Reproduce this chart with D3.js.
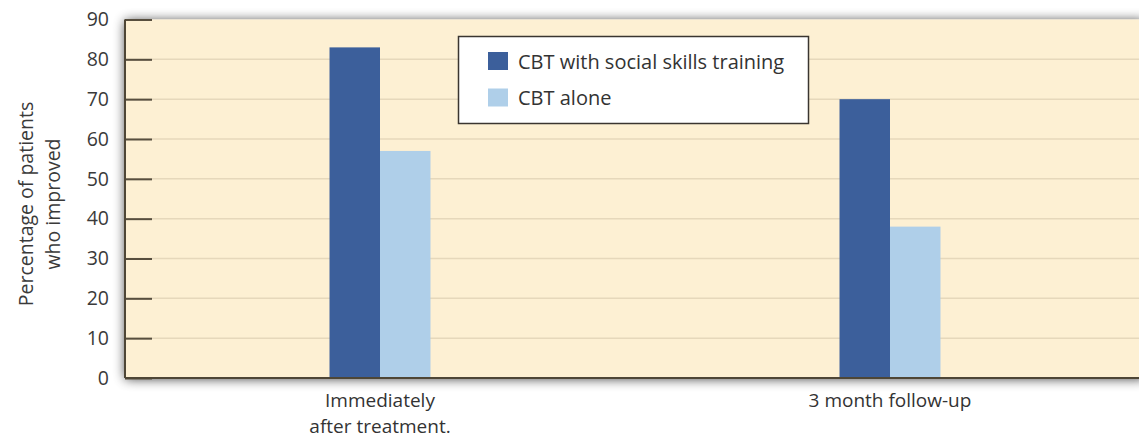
<!DOCTYPE html>
<html>
<head>
<meta charset="utf-8">
<script src="https://cdn.jsdelivr.net/npm/d3@7"></script>
<style>
  html, body { margin: 0; padding: 0; background: #ffffff; }
  svg { display: block; font-family: "Open Sans", "Noto Sans", sans-serif; }
</style>
</head>
<body>
<svg id="chart" width="1139" height="440"></svg>
<script>
const categories = [["Immediately", "after treatment."], ["3 month follow-up"]];
const categoryKeys = ["Immediately after treatment.", "3 month follow-up"];
const seriesNames = ["CBT with social skills training", "CBT alone"];
const cbtWithSkills = [83, 70];
const cbtAlone = [57, 38];
const yTicks = [0, 10, 20, 30, 40, 50, 60, 70, 80, 90];
const yTitle = ["Percentage of patients", "who improved"];

const colors = ["#3c5f9b", "#afcfe9"];
const seriesValues = [cbtWithSkills, cbtAlone];

(function () {
const svg = d3.select("#chart");
const mLeft = 125, mRight = 1145, mTop = 19.5, mBottom = 378;

const defs = svg.append("defs");
const f = defs.append("filter").attr("id", "shadow")
  .attr("x", "-5%").attr("y", "-20%").attr("width", "110%").attr("height", "140%");
f.append("feGaussianBlur").attr("in", "SourceAlpha").attr("stdDeviation", 6).attr("result", "b");
f.append("feOffset").attr("in", "b").attr("dx", 0).attr("dy", 1).attr("result", "o");
f.append("feComponentTransfer").attr("in", "o").attr("result", "s")
  .append("feFuncA").attr("type", "linear").attr("slope", 0.75);
const m = f.append("feMerge");
m.append("feMergeNode").attr("in", "s");
m.append("feMergeNode").attr("in", "SourceGraphic");

const y = d3.scaleLinear().domain([0, 90]).range([mBottom, mTop]);
const x0 = d3.scaleBand().domain(categoryKeys).range([mLeft, mRight]).paddingInner(0.802).paddingOuter(0.401);
const x1 = d3.scaleBand().domain(seriesNames).range([0, x0.bandwidth()]);

// panel
svg.append("rect")
  .attr("x", mLeft).attr("y", mTop)
  .attr("width", mRight - mLeft).attr("height", mBottom - mTop)
  .attr("fill", "#fdf0d3")
  .attr("filter", "url(#shadow)");

// gridlines
svg.append("g").selectAll("line")
  .data(yTicks.filter(d => d > 0 && d < 90))
  .join("line")
  .attr("x1", mLeft).attr("x2", mRight)
  .attr("y1", d => y(d)).attr("y2", d => y(d))
  .attr("stroke", "#e6d8bb").attr("stroke-width", 1.5);

// bars
const groups = svg.append("g").selectAll("g")
  .data(categoryKeys)
  .join("g")
  .attr("transform", d => `translate(${x0(d)},0)`);
groups.selectAll("rect")
  .data((d, i) => seriesNames.map((s, j) => ({ s, v: seriesValues[j][i], c: colors[j] })))
  .join("rect")
  .attr("x", d => x1(d.s))
  .attr("width", x1.bandwidth())
  .attr("y", d => y(d.v))
  .attr("height", d => y(0) - y(d.v))
  .attr("fill", d => d.c);

// y axis
const yAxis = d3.axisLeft(y).tickValues(yTicks).tickSize(-27).tickPadding(16);
const ga = svg.append("g").attr("transform", `translate(${mLeft},0)`).call(yAxis);
ga.select(".domain").remove();
ga.selectAll(".tick line").attr("stroke", "#574e3e").attr("stroke-width", 2);
ga.selectAll(".tick text").attr("fill", "#3a3a3a").attr("font-size", 19.5)
  .attr("font-family", "'Open Sans', sans-serif");

// axis lines
svg.append("line").attr("x1", mLeft).attr("x2", mLeft).attr("y1", mTop).attr("y2", mBottom)
  .attr("stroke", "#4e4636").attr("stroke-width", 2);
svg.append("line").attr("x1", mLeft).attr("x2", mRight).attr("y1", mBottom).attr("y2", mBottom)
  .attr("stroke", "#4e4636").attr("stroke-width", 2);

// category labels
const cl = svg.append("g").selectAll("text")
  .data(categoryKeys)
  .join("text")
  .attr("text-anchor", "middle")
  .attr("font-size", 19)
  .attr("fill", "#333");
cl.each(function(d, i) {
  const t = d3.select(this);
  categories[i].forEach((line, k) => {
    t.append("tspan")
      .attr("x", x0(d) + x0.bandwidth() / 2)
      .attr("y", 407 + k * 26)
      .text(line);
  });
});

// y title
const yt = svg.append("g").attr("transform", `translate(0,204) rotate(-90)`)
  .append("text").attr("text-anchor", "middle").attr("font-size", 19.5).attr("fill", "#3a3a3a");
yTitle.forEach((line, k) => {
  yt.append("tspan").attr("x", 0).attr("y", 33 + k * 27).text(line);
});

// legend
const lg = svg.append("g");
lg.append("rect").attr("x", 458.5).attr("y", 36.5).attr("width", 350).attr("height", 87)
  .attr("fill", "#ffffff").attr("stroke", "#3a3530").attr("stroke-width", 1.5);
const items = lg.selectAll("g.item").data(seriesNames).join("g").attr("class", "item")
  .attr("transform", (d, i) => `translate(488,${52 + i * 36.5})`);
items.append("rect").attr("width", 20).attr("height", 18).attr("fill", (d, i) => colors[i]);
items.append("text").attr("x", 30).attr("y", 16.5).attr("font-size", 20).attr("fill", "#333")
  .text(d => d);
})();
</script>
</body>
</html>
